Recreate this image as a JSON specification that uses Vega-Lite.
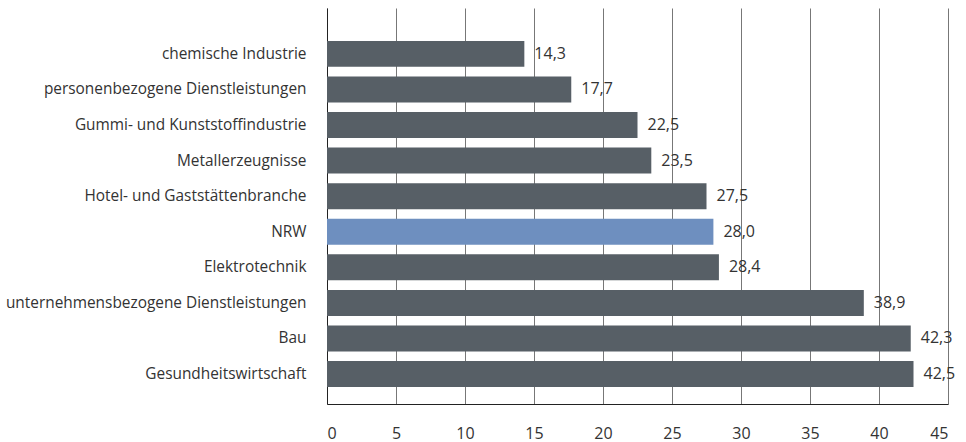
{
  "$schema": "https://vega.github.io/schema/vega-lite/v6.json",
  "width": 621,
  "height": 396,
  "autosize": "none",
  "padding": {"left": 327, "top": 8, "right": 18, "bottom": 38},
  "background": "white",
  "config": {
    "locale": {"number": {"decimal": ",", "thousands": ".", "grouping": [3], "currency": ["", " €"]}},
    "view": {"stroke": null},
    "font": "Open Sans"
  },
  "data": {
    "values": [
      {"branche": "chemische Industrie", "wert": 14.3, "typ": "Branche"},
      {"branche": "personenbezogene Dienstleistungen", "wert": 17.7, "typ": "Branche"},
      {"branche": "Gummi- und Kunststoffindustrie", "wert": 22.5, "typ": "Branche"},
      {"branche": "Metallerzeugnisse", "wert": 23.5, "typ": "Branche"},
      {"branche": "Hotel- und Gaststättenbranche", "wert": 27.5, "typ": "Branche"},
      {"branche": "NRW", "wert": 28.0, "typ": "NRW"},
      {"branche": "Elektrotechnik", "wert": 28.4, "typ": "Branche"},
      {"branche": "unternehmensbezogene Dienstleistungen", "wert": 38.9, "typ": "Branche"},
      {"branche": "Bau", "wert": 42.3, "typ": "Branche"},
      {"branche": "Gesundheitswirtschaft", "wert": 42.5, "typ": "Branche"}
    ]
  },
  "encoding": {
    "y": {
      "field": "branche",
      "type": "nominal",
      "sort": null,
      "scale": {"paddingInner": 0.27, "paddingOuter": 0.7, "align": 0.66},
      "axis": {
        "title": null,
        "ticks": false,
        "domain": true,
        "domainColor": "#222",
        "domainWidth": 1,
        "labelFont": "Open Sans",
        "labelFontSize": 15.4,
        "labelColor": "#333",
        "labelPadding": 21,
        "labelLimit": 400
      }
    },
    "x": {
      "field": "wert",
      "type": "quantitative",
      "scale": {"domain": [0, 45], "nice": false},
      "axis": {
        "title": null,
        "values": [0, 5, 10, 15, 20, 25, 30, 35, 40, 45],
        "format": "d",
        "ticks": false,
        "domain": true,
        "domainColor": "#222",
        "grid": true,
        "gridColor": "#777",
        "gridWidth": 1,
        "labelFont": "Open Sans",
        "labelFontSize": 16,
        "labelColor": "#333",
        "labelPadding": 21
      }
    }
  },
  "layer": [
    {
      "mark": {"type": "bar"},
      "encoding": {
        "color": {
          "field": "typ",
          "type": "nominal",
          "scale": {"domain": ["Branche", "NRW"], "range": ["#575f66", "#6e8fbf"]},
          "legend": null
        }
      }
    },
    {
      "mark": {"type": "text", "align": "left", "baseline": "middle", "dx": 10, "fontSize": 16, "font": "Open Sans", "color": "#333"},
      "encoding": {
        "text": {"field": "wert", "type": "quantitative", "format": ".1f"}
      }
    }
  ]
}
